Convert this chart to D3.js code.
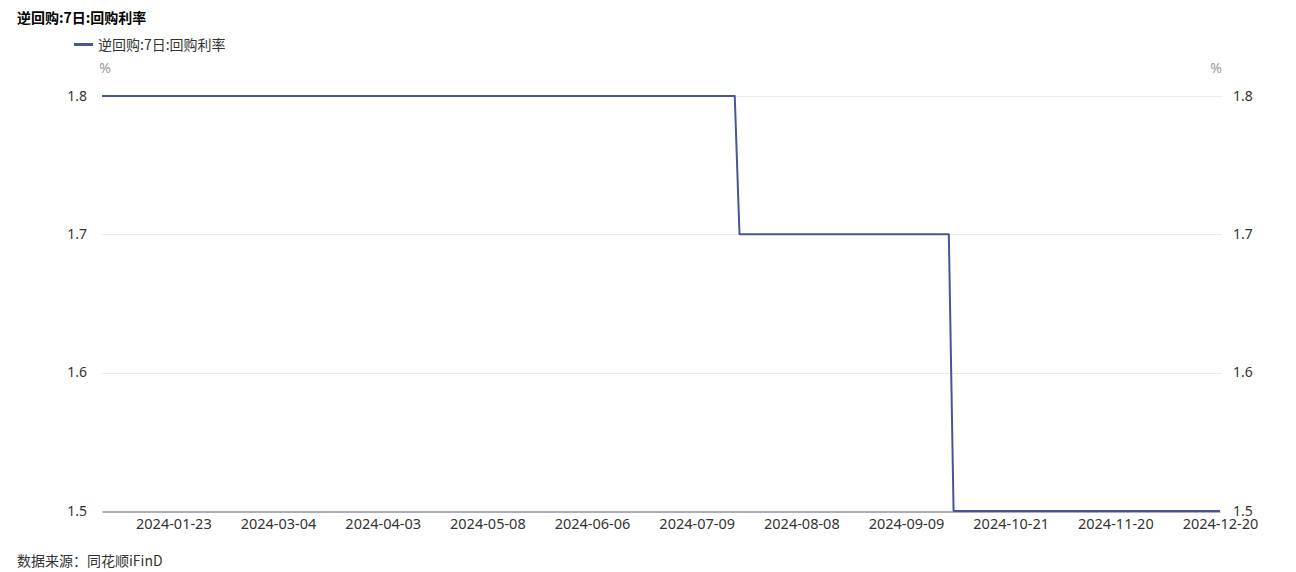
<!DOCTYPE html>
<html>
<head>
<meta charset="utf-8">
<script src="https://cdn.jsdelivr.net/npm/d3@7/dist/d3.min.js"></script>
<style>
  html, body { margin: 0; padding: 0; background: #ffffff; }
  svg { display: block; }
  text { font-family: "Noto Sans CJK SC", "Noto Sans", sans-serif; }
  .num text, text.num { font-family: "Noto Sans", "Noto Sans CJK SC", sans-serif; }
</style>
</head>
<body>
<svg id="chart" width="1296" height="572"></svg>
<script>
const title = "逆回购:7日:回购利率";
const seriesName = "逆回购:7日:回购利率";
const unitLabel = "%";
const sourceText = "数据来源：同花顺iFinD";

const dates = [
  "2024-01-02","2024-01-03","2024-01-04","2024-01-05","2024-01-08","2024-01-09","2024-01-10","2024-01-11","2024-01-12","2024-01-15","2024-01-16","2024-01-17","2024-01-18","2024-01-19","2024-01-22","2024-01-23","2024-01-24","2024-01-25","2024-01-26","2024-01-29","2024-01-30","2024-01-31",
  "2024-02-01","2024-02-02","2024-02-05","2024-02-06","2024-02-07","2024-02-19","2024-02-20","2024-02-21","2024-02-22","2024-02-23","2024-02-26","2024-02-27","2024-02-28","2024-02-29",
  "2024-03-01","2024-03-04","2024-03-05","2024-03-06","2024-03-07","2024-03-08","2024-03-11","2024-03-12","2024-03-13","2024-03-14","2024-03-15","2024-03-18","2024-03-19","2024-03-20","2024-03-21","2024-03-22","2024-03-25","2024-03-26","2024-03-27","2024-03-28","2024-03-29",
  "2024-04-01","2024-04-02","2024-04-03","2024-04-07","2024-04-08","2024-04-09","2024-04-10","2024-04-11","2024-04-12","2024-04-15","2024-04-16","2024-04-17","2024-04-18","2024-04-19","2024-04-22","2024-04-23","2024-04-24","2024-04-25","2024-04-26","2024-04-28","2024-04-29","2024-04-30",
  "2024-05-06","2024-05-07","2024-05-08","2024-05-09","2024-05-10","2024-05-11","2024-05-13","2024-05-14","2024-05-15","2024-05-16","2024-05-17","2024-05-20","2024-05-21","2024-05-22","2024-05-23","2024-05-24","2024-05-27","2024-05-28","2024-05-29","2024-05-30","2024-05-31",
  "2024-06-03","2024-06-04","2024-06-05","2024-06-06","2024-06-07","2024-06-11","2024-06-12","2024-06-13","2024-06-14","2024-06-17","2024-06-18","2024-06-19","2024-06-20","2024-06-21","2024-06-24","2024-06-25","2024-06-26","2024-06-27","2024-06-28",
  "2024-07-01","2024-07-02","2024-07-03","2024-07-04","2024-07-05","2024-07-08","2024-07-09","2024-07-10","2024-07-11","2024-07-12","2024-07-15","2024-07-16","2024-07-17","2024-07-18","2024-07-19","2024-07-22","2024-07-23","2024-07-24","2024-07-25","2024-07-26","2024-07-29","2024-07-30","2024-07-31",
  "2024-08-01","2024-08-02","2024-08-05","2024-08-06","2024-08-07","2024-08-08","2024-08-09","2024-08-12","2024-08-13","2024-08-14","2024-08-15","2024-08-16","2024-08-19","2024-08-20","2024-08-21","2024-08-22","2024-08-23","2024-08-26","2024-08-27","2024-08-28","2024-08-29","2024-08-30",
  "2024-09-02","2024-09-03","2024-09-04","2024-09-05","2024-09-06","2024-09-09","2024-09-10","2024-09-11","2024-09-12","2024-09-13","2024-09-18","2024-09-19","2024-09-20","2024-09-25","2024-09-26","2024-09-27","2024-09-30",
  "2024-10-08","2024-10-09","2024-10-10","2024-10-11","2024-10-12","2024-10-14","2024-10-15","2024-10-16","2024-10-17","2024-10-18","2024-10-21","2024-10-22","2024-10-23","2024-10-24","2024-10-25","2024-10-28","2024-10-29","2024-10-30","2024-10-31",
  "2024-11-01","2024-11-04","2024-11-05","2024-11-06","2024-11-07","2024-11-08","2024-11-11","2024-11-12","2024-11-13","2024-11-14","2024-11-15","2024-11-18","2024-11-19","2024-11-20","2024-11-21","2024-11-22","2024-11-25","2024-11-26","2024-11-27","2024-11-28","2024-11-29",
  "2024-12-02","2024-12-03","2024-12-04","2024-12-05","2024-12-06","2024-12-09","2024-12-10","2024-12-11","2024-12-12","2024-12-13","2024-12-16","2024-12-17","2024-12-18","2024-12-19","2024-12-20"
];

const values = [
  1.8,1.8,1.8,1.8,1.8,1.8,1.8,1.8,1.8,1.8,1.8,1.8,1.8,1.8,1.8,1.8,1.8,1.8,1.8,1.8,1.8,1.8,
  1.8,1.8,1.8,1.8,1.8,1.8,1.8,1.8,1.8,1.8,1.8,1.8,1.8,1.8,
  1.8,1.8,1.8,1.8,1.8,1.8,1.8,1.8,1.8,1.8,1.8,1.8,1.8,1.8,1.8,1.8,1.8,1.8,1.8,1.8,1.8,
  1.8,1.8,1.8,1.8,1.8,1.8,1.8,1.8,1.8,1.8,1.8,1.8,1.8,1.8,1.8,1.8,1.8,1.8,1.8,1.8,1.8,1.8,
  1.8,1.8,1.8,1.8,1.8,1.8,1.8,1.8,1.8,1.8,1.8,1.8,1.8,1.8,1.8,1.8,1.8,1.8,1.8,1.8,1.8,
  1.8,1.8,1.8,1.8,1.8,1.8,1.8,1.8,1.8,1.8,1.8,1.8,1.8,1.8,1.8,1.8,1.8,1.8,1.8,
  1.8,1.8,1.8,1.8,1.8,1.8,1.8,1.8,1.8,1.8,1.8,1.8,1.8,1.8,1.8,1.7,1.7,1.7,1.7,1.7,1.7,1.7,1.7,
  1.7,1.7,1.7,1.7,1.7,1.7,1.7,1.7,1.7,1.7,1.7,1.7,1.7,1.7,1.7,1.7,1.7,1.7,1.7,1.7,1.7,1.7,
  1.7,1.7,1.7,1.7,1.7,1.7,1.7,1.7,1.7,1.7,1.7,1.7,1.7,1.7,1.7,1.5,1.5,
  1.5,1.5,1.5,1.5,1.5,1.5,1.5,1.5,1.5,1.5,1.5,1.5,1.5,1.5,1.5,1.5,1.5,1.5,1.5,
  1.5,1.5,1.5,1.5,1.5,1.5,1.5,1.5,1.5,1.5,1.5,1.5,1.5,1.5,1.5,1.5,1.5,1.5,1.5,1.5,1.5,
  1.5,1.5,1.5,1.5,1.5,1.5,1.5,1.5,1.5,1.5,1.5,1.5,1.5,1.5,1.5
];

const xTickLabels = ["2024-01-23","2024-03-04","2024-04-03","2024-05-08","2024-06-06","2024-07-09","2024-08-08","2024-09-09","2024-10-21","2024-11-20","2024-12-20"];
const yTicks = [1.5, 1.6, 1.7, 1.8];

const data = dates.map((d, i) => ({ date: d, value: values[i] }));

const svg = d3.select("#chart");
const plotLeft = 102, plotRight = 1220, plotTop = 96, plotBottom = 511;
const lineColor = "#4a5597";

const x = d3.scalePoint().domain(dates).range([plotLeft, plotRight]);
const y = d3.scaleLinear().domain([1.5, 1.8]).range([plotBottom, plotTop]);

// grid lines
svg.append("g")
  .selectAll("line")
  .data(yTicks.filter(t => t !== 1.5))
  .join("line")
  .attr("x1", plotLeft).attr("x2", plotRight + 2)
  .attr("y1", d => Math.round(y(d)) + 0.5).attr("y2", d => Math.round(y(d)) + 0.5)
  .attr("stroke", "#e8e9f1").attr("stroke-width", 1);

// left y axis
const yAxisL = d3.axisLeft(y).tickValues(yTicks).tickFormat(d3.format(".1f")).tickSize(0).tickPadding(15);
const gL = svg.append("g").attr("class", "num").attr("transform", `translate(${plotLeft},0)`).call(yAxisL);
gL.select(".domain").remove();
gL.selectAll("text").attr("fill", "#333").style("font-size", "14px").attr("dy", "0.3em");

// right y axis
const yAxisR = d3.axisRight(y).tickValues(yTicks).tickFormat(d3.format(".1f")).tickSize(0).tickPadding(0);
const gR = svg.append("g").attr("class", "num").attr("transform", `translate(1233,0)`).call(yAxisR);
gR.select(".domain").remove();
gR.selectAll("text").attr("fill", "#333").style("font-size", "14px").attr("dy", "0.3em");

// x axis
const xAxis = d3.axisBottom(x).tickValues(xTickLabels).tickSize(0).tickPadding(7);
const gX = svg.append("g").attr("class", "num").attr("transform", `translate(0,${plotBottom + 0.5})`).call(xAxis);
gX.select(".domain").attr("stroke", "#565a78").attr("stroke-width", 1);
gX.selectAll("text").attr("fill", "#333").style("font-size", "14.5px");

// line
const line = d3.line().x(d => x(d.date)).y(d => y(d.value));
svg.append("path")
  .datum(data)
  .attr("fill", "none")
  .attr("stroke", lineColor)
  .attr("stroke-width", 2)
  .attr("stroke-linejoin", "round")
  .attr("d", line);

// title
svg.append("text").attr("x", 17).attr("y", 23).text(title)
  .style("font-size", "14px").style("font-weight", "bold").attr("fill", "#000");

// legend
svg.append("line").attr("x1", 74).attr("x2", 93).attr("y1", 44.5).attr("y2", 44.5)
  .attr("stroke", lineColor).attr("stroke-width", 3);
svg.append("text").attr("x", 98).attr("y", 49.5).text(seriesName)
  .style("font-size", "14px").attr("fill", "#333");

// units
svg.append("text").attr("class", "num").attr("x", 105).attr("y", 73).attr("text-anchor", "middle").text(unitLabel)
  .style("font-size", "14px").attr("fill", "#999");
svg.append("text").attr("class", "num").attr("x", 1216).attr("y", 73).attr("text-anchor", "middle").text(unitLabel)
  .style("font-size", "14px").attr("fill", "#999");

// source
svg.append("text").attr("x", 17).attr("y", 566).text(sourceText)
  .style("font-size", "14px").attr("fill", "#333");
</script>
</body>
</html>
